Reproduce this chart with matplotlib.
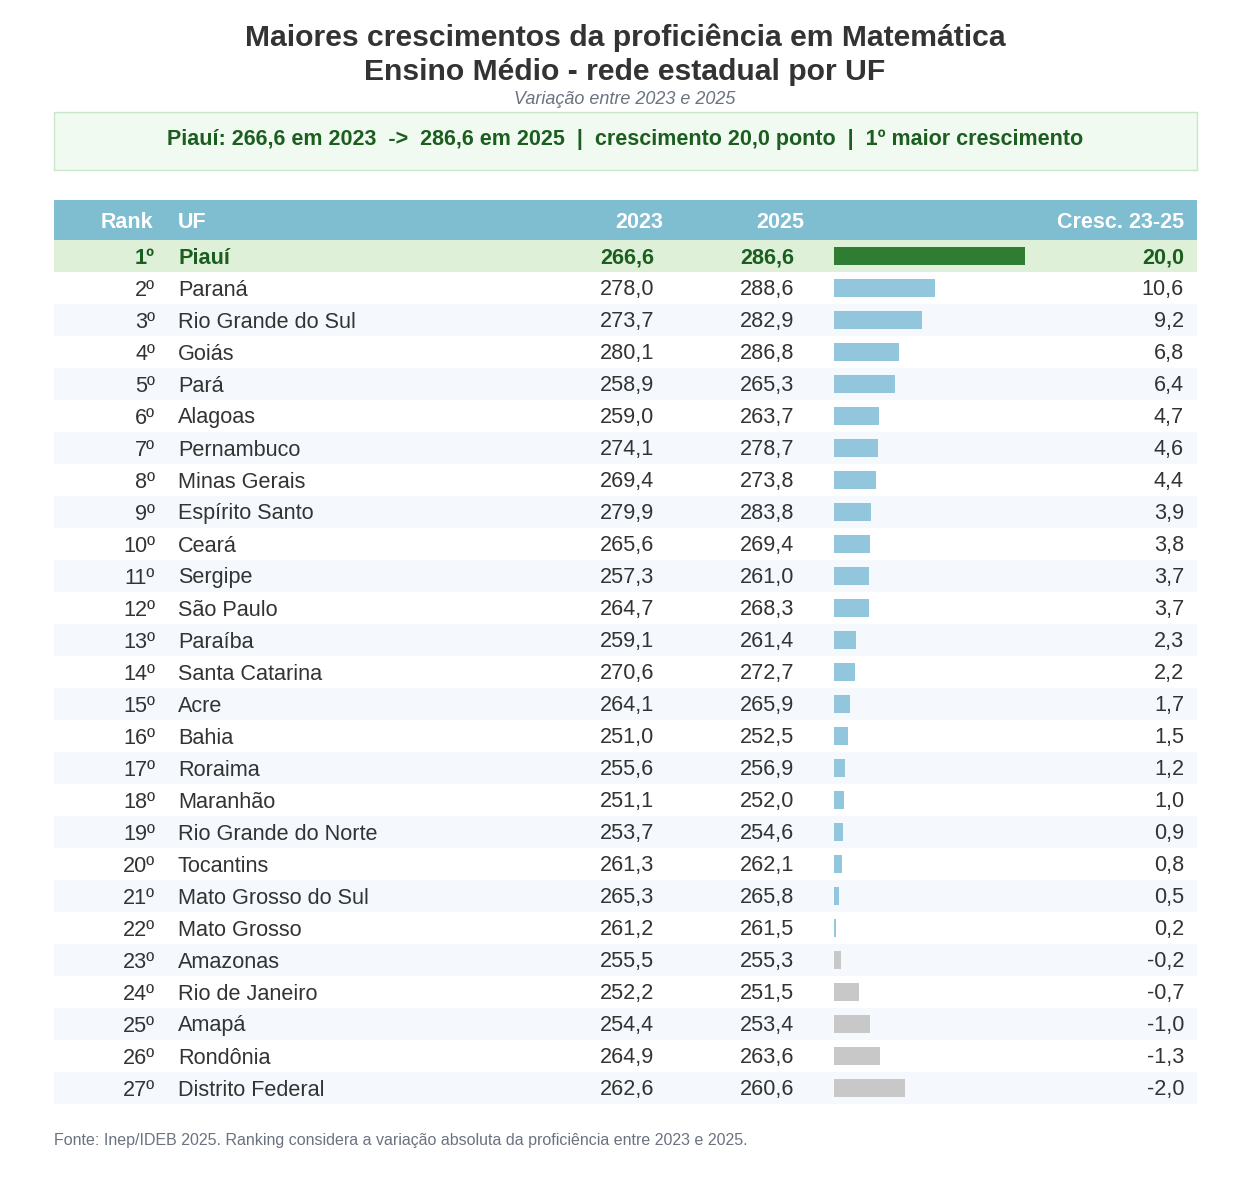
import matplotlib
matplotlib.use("Agg")
import matplotlib.pyplot as plt
from matplotlib.patches import Rectangle

plt.rcParams['font.family'] = ['Liberation Sans', 'DejaVu Sans']

ranks = [f"{i}º" for i in range(1, 28)]
ufs = ["Piauí", "Paraná", "Rio Grande do Sul", "Goiás", "Pará", "Alagoas", "Pernambuco",
       "Minas Gerais", "Espírito Santo", "Ceará", "Sergipe", "São Paulo", "Paraíba",
       "Santa Catarina", "Acre", "Bahia", "Roraima", "Maranhão", "Rio Grande do Norte",
       "Tocantins", "Mato Grosso do Sul", "Mato Grosso", "Amazonas", "Rio de Janeiro",
       "Amapá", "Rondônia", "Distrito Federal"]
v2023 = [266.6, 278.0, 273.7, 280.1, 258.9, 259.0, 274.1, 269.4, 279.9, 265.6, 257.3, 264.7,
         259.1, 270.6, 264.1, 251.0, 255.6, 251.1, 253.7, 261.3, 265.3, 261.2, 255.5, 252.2,
         254.4, 264.9, 262.6]
v2025 = [286.6, 288.6, 282.9, 286.8, 265.3, 263.7, 278.7, 273.8, 283.8, 269.4, 261.0, 268.3,
         261.4, 272.7, 265.9, 252.5, 256.9, 252.0, 254.6, 262.1, 265.8, 261.5, 255.3, 251.5,
         253.4, 263.6, 260.6]
cresc = [20.0, 10.6, 9.2, 6.8, 6.4, 4.7, 4.6, 4.4, 3.9, 3.8, 3.7, 3.7, 2.3, 2.2, 1.7, 1.5,
         1.2, 1.0, 0.9, 0.8, 0.5, 0.2, -0.2, -0.7, -1.0, -1.3, -2.0]
headers = ["Rank", "UF", "2023", "2025", "Cresc. 23-25"]

def fmt(v):
    return f"{v:.1f}".replace(".", ",")

W, H = 1250, 1184
fig = plt.figure(figsize=(W / 100, H / 100), dpi=100)
ax = fig.add_axes([0, 0, 1, 1])
ax.set_xlim(0, W)
ax.set_ylim(H, 0)
ax.axis('off')

TXT = '#333333'
DKGREEN = '#1b5e20'
L, R = 54, 1197
DY = 2

# Titles
ax.text(625, 36 + DY, "Maiores crescimentos da proficiência em Matemática", ha='center', va='center',
        fontsize=21.7, fontweight='bold', color='#333333')
ax.text(625, 70 + DY, "Ensino Médio - rede estadual por UF", ha='center', va='center',
        fontsize=21.7, fontweight='bold', color='#333333')
ax.text(625, 98 + 1, "Variação entre 2023 e 2025", ha='center', va='center',
        fontsize=13, style='italic', color='#6b7280')

# Highlight box
ax.add_patch(Rectangle((L, 112), R - L, 58, facecolor='#f1faf0', edgecolor='#c8e6c9', lw=1))
ax.text(625, 137 + DY, "Piauí: 266,6 em 2023  ->  286,6 em 2025  |  crescimento 20,0 ponto  |  1º maior crescimento",
        ha='center', va='center', fontsize=15.5, fontweight='bold', color=DKGREEN)

# Header
ax.add_patch(Rectangle((L, 200), R - L, 40, facecolor='#7fbdd1', edgecolor='none'))
hx = [153, 178, 663, 804, 1184]
ha_ = ['right', 'left', 'right', 'right', 'right']
for t, x, a in zip(headers, hx, ha_):
    ax.text(x, 220 + DY, t, ha=a, va='center', fontsize=15.5, fontweight='bold', color='white')

ROW0, RH = 240, 32
BAR_X = 834
POS_SCALE = 191 / 20.0
NEG_SCALE = 71 / 2.0

centers = [ROW0 + RH * i + RH / 2 for i in range(len(ufs))]
for i, yc in enumerate(centers):
    if i == 0:
        bg = '#dff0d8'
    elif i % 2 == 0:
        bg = '#f5f9fd'
    else:
        bg = 'white'
    ax.add_patch(Rectangle((L, ROW0 + RH * i), R - L, RH, facecolor=bg, edgecolor='none', zorder=0))

widths = [c * POS_SCALE if c >= 0 else -c * NEG_SCALE for c in cresc]
colors = ['#2e7d32' if i == 0 else ('#92c6dc' if c >= 0 else '#c8c8c8') for i, c in enumerate(cresc)]
ax.barh(centers, widths, left=BAR_X, height=18, color=colors, zorder=2)

for i, yc in enumerate(centers):
    bold = (i == 0)
    col = DKGREEN if bold else TXT
    fw = 'bold' if bold else 'normal'
    kw = dict(va='center', fontsize=15.6, color=col, fontweight=fw)
    ty = yc + DY
    ax.text(155, ty, ranks[i], ha='right', **kw)
    ax.text(178, ty, ufs[i], ha='left', **kw)
    ax.text(654, ty, fmt(v2023[i]), ha='right', **kw)
    ax.text(794, ty, fmt(v2025[i]), ha='right', **kw)
    ax.text(1184, ty, fmt(cresc[i]), ha='right', **kw)

ax.text(L, 1140 + 1, "Fonte: Inep/IDEB 2025. Ranking considera a variação absoluta da proficiência entre 2023 e 2025.",
        ha='left', va='center', fontsize=11.5, color='#6b7280')

fig.savefig('out.png', dpi=100, facecolor='white')
